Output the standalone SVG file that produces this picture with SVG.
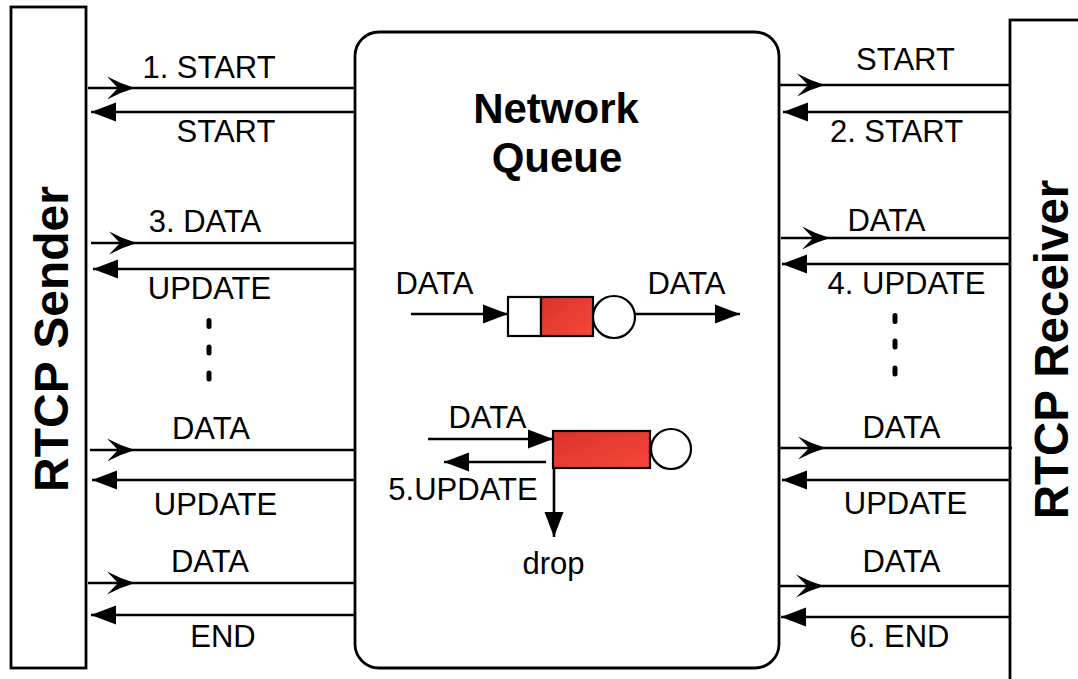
<svg xmlns="http://www.w3.org/2000/svg" width="1078" height="679" viewBox="0 0 1078 679">
<style>
.box{fill:#fff;stroke:#000;stroke-width:2.8}
.ln{fill:none;stroke:#000;stroke-width:2.6}
.t{font-family:"Liberation Sans",Arial,Helvetica,sans-serif;font-size:31px;fill:#000;text-anchor:middle}
.tb{font-family:"Liberation Sans",Arial,Helvetica,sans-serif;font-weight:bold;fill:#000;text-anchor:middle}
.fwd{marker-mid:url(#barb)}
.bk{marker-end:url(#tri)}
.dot{fill:#000}
</style>
<defs>
<marker id="barb" markerUnits="userSpaceOnUse" markerWidth="40" markerHeight="30" viewBox="-30 -15 40 30" refX="0" refY="0" orient="auto" overflow="visible">
<path d="M0,0 Q-14,-4 -28,-11.5 L-17,0 L-28,11.5 Q-14,4 0,0Z" fill="#000"/>
</marker>
<marker id="tri" markerUnits="userSpaceOnUse" markerWidth="40" markerHeight="30" viewBox="-30 -15 40 30" refX="0" refY="0" orient="auto" overflow="visible">
<path d="M0,0 L-25,-9.5 L-25,9.5Z" fill="#000"/>
</marker>
<linearGradient id="red" x1="0" y1="0" x2="1" y2="1">
<stop offset="0" stop-color="#d9332a"/>
<stop offset="1" stop-color="#f7473b"/>
</linearGradient>
</defs>

<g id="sender">
<rect class="box" x="11" y="7" width="75" height="661"/>
<text class="tb" font-size="48" transform="rotate(-90)" x="-339" y="68">RTCP Sender</text>
</g>

<g id="receiver">
<rect class="box" x="1010" y="20" width="100" height="700"/>
<text class="tb" font-size="47.5" transform="rotate(-90)" x="-349.5" y="1068">RTCP Receiver</text>
</g>

<g id="network-queue">
<rect class="box" x="355" y="32" width="424" height="636" rx="24" ry="24"/>
<text class="tb" font-size="42" x="556" y="123">Network</text>
<text class="tb" font-size="42" x="557" y="172">Queue</text>
</g>

<g id="queue-normal">
<rect x="508" y="297" width="33" height="39" fill="#fff" stroke="#000" stroke-width="2.2"/>
<rect x="541" y="297" width="52" height="39" fill="url(#red)" stroke="#000" stroke-width="2.2"/>
<circle cx="614" cy="317" r="21" fill="#fff" stroke="#000" stroke-width="2.2"/>
</g>

<g id="queue-full">
<rect x="553" y="431" width="97" height="37" fill="url(#red)" stroke="#000" stroke-width="2.2"/>
<circle cx="671" cy="449" r="20" fill="#fff" stroke="#000" stroke-width="2.2"/>
</g>

<g id="connectors">
<path class="ln fwd" d="M88,88 H135 H355"/>
<path class="ln bk" d="M355,112 H91"/>
<path class="ln fwd" d="M91,243 H137 H355"/>
<path class="ln bk" d="M355,269 H93"/>
<path class="ln fwd" d="M90,450 H135 H355"/>
<path class="ln bk" d="M355,480 H92"/>
<path class="ln fwd" d="M88,583 H135 H355"/>
<path class="ln bk" d="M355,615 H91"/>
<path class="ln fwd" d="M779,85 H825 H1010"/>
<path class="ln bk" d="M1010,112 H783"/>
<path class="ln fwd" d="M781,238 H830 H1010"/>
<path class="ln bk" d="M1010,264 H782"/>
<path class="ln fwd" d="M779,448 H826 H1012"/>
<path class="ln bk" d="M1010,480 H782"/>
<path class="ln fwd" d="M779,586 H824 H1010"/>
<path class="ln bk" d="M1010,617 H781"/>
<path class="ln bk" d="M411,314 H508"/>
<path class="ln bk" d="M635,314 H740"/>
<path class="ln bk" d="M428,439 H553"/>
<path class="ln bk" d="M546,462 H444"/>
<path class="ln bk" d="M554,468 V537"/>
</g>

<g id="labels">
<text class="t" x="209" y="78">1. START</text>
<text class="t" x="226" y="142">START</text>
<text class="t" x="205" y="232">3. DATA</text>
<text class="t" x="209.5" y="299">UPDATE</text>
<text class="t" x="211" y="439">DATA</text>
<text class="t" x="215.5" y="515">UPDATE</text>
<text class="t" x="210" y="572">DATA</text>
<text class="t" x="223" y="647">END</text>
<text class="t" x="905.5" y="70">START</text>
<text class="t" x="896.5" y="142">2. START</text>
<text class="t" x="886.5" y="231">DATA</text>
<text class="t" x="906.5" y="294">4. UPDATE</text>
<text class="t" x="901.5" y="438">DATA</text>
<text class="t" x="905.5" y="514">UPDATE</text>
<text class="t" x="901.5" y="572">DATA</text>
<text class="t" x="899.5" y="647">6. END</text>
<text class="t" x="434.5" y="294">DATA</text>
<text class="t" x="686.5" y="294">DATA</text>
<text class="t" x="487.5" y="428">DATA</text>
<text class="t" x="463" y="500">5.UPDATE</text>
<text class="t" x="553.5" y="574">drop</text>
</g>

<g id="ellipsis">
<rect class="dot" x="206.5" y="318" width="5" height="11" rx="2.5"/>
<rect class="dot" x="206.5" y="344.5" width="5" height="11" rx="2.5"/>
<rect class="dot" x="206.5" y="370.5" width="5" height="11" rx="2.5"/>
<rect class="dot" x="892.5" y="313" width="5" height="11" rx="2.5"/>
<rect class="dot" x="892.5" y="338.5" width="5" height="11" rx="2.5"/>
<rect class="dot" x="892.5" y="365.5" width="5" height="11" rx="2.5"/>
</g>
</svg>
